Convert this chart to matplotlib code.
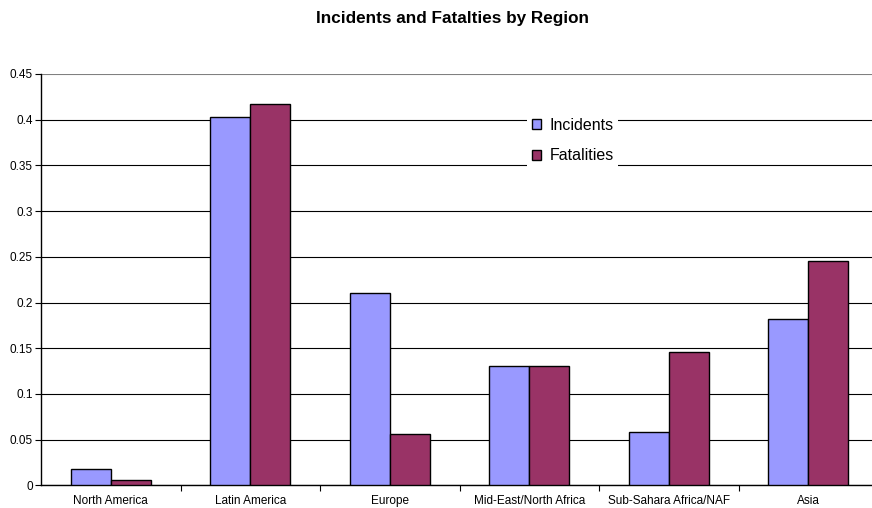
import numpy as np
import matplotlib
matplotlib.use("Agg")
import matplotlib.pyplot as plt
from matplotlib.patches import Patch

plt.rcParams['font.family'] = ['Liberation Sans', 'DejaVu Sans']

regions = ["North America", "Latin America", "Europe",
           "Mid-East/North Africa", "Sub-Sahara Africa/NAF", "Asia"]
incidents = [0.0175, 0.403, 0.2105, 0.1305, 0.058, 0.182]
fatalities = [0.0055, 0.417, 0.056, 0.1305, 0.146, 0.2455]
yticks = [0, 0.05, 0.1, 0.15, 0.2, 0.25, 0.3, 0.35, 0.4, 0.45]
ytick_labels = ["0", "0.05", "0.1", "0.15", "0.2", "0.25", "0.3", "0.35", "0.4", "0.45"]

inc_color = "#9999FF"
fat_color = "#993366"


def main():
    fig = plt.figure(figsize=(8.72, 5.08), dpi=100)
    ax = fig.add_axes([41 / 872, 22.7 / 508, 837 / 872, 411.3 / 508])

    x = np.arange(len(regions))
    w = 0.287
    ax.bar(x - w / 2, incidents, w, color=inc_color, edgecolor="black",
           linewidth=1.0, zorder=3)
    ax.bar(x + w / 2, fatalities, w, color=fat_color, edgecolor="black",
           linewidth=1.0, zorder=3)

    ax.set_xlim(-0.5, len(regions) - 0.5)
    ax.set_ylim(0, 0.45)

    # horizontal gridlines (top one drawn in grey)
    ax.set_yticks(yticks)
    ax.set_yticklabels(ytick_labels, fontsize=8.5)
    ax.yaxis.grid(True, color="black", linewidth=0.8, zorder=0)
    ax.get_ygridlines()[-1].set_color("#808080")
    ax.tick_params(axis="y", direction="out", length=4, width=0.8, pad=2)

    # ticks at category boundaries, labels at centres
    ax.set_xticks(np.arange(0.5, len(regions) - 0.5, 1.0))
    ax.set_xticklabels([])
    ax.set_xticks(x, minor=True)
    ax.set_xticklabels(regions, minor=True, fontsize=8.5)
    ax.tick_params(axis="x", which="major", direction="out", length=4, width=0.8)
    ax.tick_params(axis="x", which="minor", length=0, pad=7)

    for s in ["top", "right"]:
        ax.spines[s].set_visible(False)
    ax.spines["left"].set_linewidth(1.0)
    ax.spines["bottom"].set_linewidth(1.0)

    handles = [Patch(facecolor=inc_color, edgecolor="black", label="Incidents"),
               Patch(facecolor=fat_color, edgecolor="black", label="Fatalities")]
    leg = fig.legend(handles=handles, loc="upper left",
                     bbox_to_anchor=(527 / 872, 1 - 113 / 508),
                     fontsize=11.5, frameon=True, fancybox=False,
                     handlelength=0.6, handleheight=0.6, handletextpad=0.5,
                     labelspacing=0.98, borderpad=0.3, borderaxespad=0)
    leg.get_frame().set_facecolor("white")
    leg.get_frame().set_edgecolor("none")
    leg.get_frame().set_alpha(1)

    fig.text(0.519, 1 - 19 / 508, "Incidents and Fatalties by Region",
             ha="center", va="center", fontsize=12.3, fontweight="bold")

    fig.savefig("out.png", dpi=100)


if __name__ == "__main__":
    main()
